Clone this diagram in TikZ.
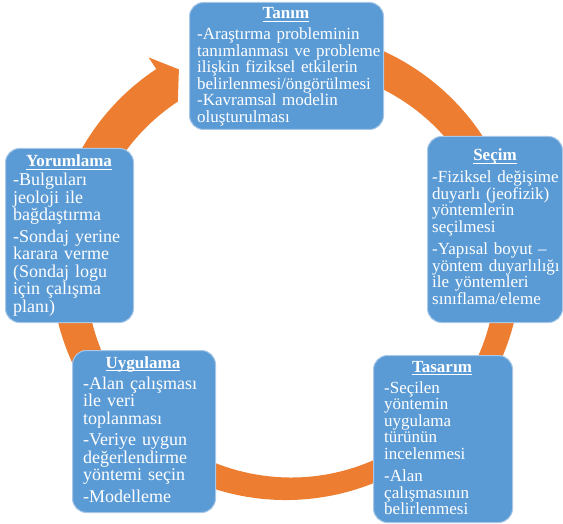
\documentclass[tikz,border=0pt]{standalone}
\usepackage{fontspec}
\setmainfont{Liberation Serif}
\usetikzlibrary{calc}
\definecolor{boxblue}{HTML}{5B9BD5}
\definecolor{ringorange}{HTML}{ED7D31}
\definecolor{boxedge}{HTML}{A9C8E8}
\newsavebox{\titlebx}
\newcommand{\boxtitle}[1]{\sbox{\titlebx}{\bfseries #1}\rlap{\rule[-2.5pt]{\wd\titlebx}{0.9pt}}\usebox{\titlebx}}
\tikzset{
  stagebox/.style={rounded corners=14pt, fill=boxblue, draw=boxedge, line width=1pt,
    anchor=north west, inner sep=0pt},
  stagetitle/.style={text=white, font=\fontsize{17}{15}\selectfont, anchor=base, inner sep=0pt},
  stagebody/.style 2 args={text=white, font=\fontsize{#1}{#2}\selectfont, align=left,
    text width=200pt, anchor=base west, inner sep=0pt},
}
\begin{document}
\begin{tikzpicture}[x=1pt,y=-1pt]
\useasboundingbox (0,0) rectangle (563,524);
\coordinate (C) at (286,265);
% ring with arrowhead
\fill[ringorange] ($(C)+(-100:235)$) arc[start angle=-100,end angle=236.5,radius=235]
  -- ($(C)+(236.5:249)$) -- ($(C)+(241.3:223)$) -- ($(C)+(236.5:196)$)
  arc[start angle=236.5,end angle=-100,radius=205] -- cycle;
% Tanim
\node[stagebox, minimum width=194pt, minimum height=127pt] (tanim) at (189,2) {};
\node[stagetitle] (tanim-t) at (286,19) {\boxtitle{Tanım}};
\node[stagebody={17}{16.5}] (tanim-b) at (197,40)
 {-Araştırma probleminin\\
 tanımlanması ve probleme\\
 ilişkin fiziksel etkilerin\\
 belirlenmesi/öngörülmesi\\
 -Kavramsal modelin\\
 oluşturulması};
% Secim
\node[stagebox, minimum width=135pt, minimum height=186pt] (secim) at (427,136) {};
\node[stagetitle] (secim-t) at (495,161) {\boxtitle{Seçim}};
\node[stagebody={17}{16.5}] (secim-b) at (432,183)
 {-Fiziksel değişime\\
 duyarlı (jeofizik)\\
 yöntemlerin\\
 seçilmesi\\[6pt]
 -Yapısal boyut –\\
 yöntem duyarlılığı\\
 ile yöntemleri\\
 sınıflama/eleme};
% Tasarim
\node[stagebox, minimum width=139pt, minimum height=167pt] (tasarim) at (373,355) {};
\node[stagetitle] (tasarim-t) at (442,372) {\boxtitle{Tasarım}};
\node[stagebody={17}{16.5}] (tasarim-b) at (384,393)
 {-Seçilen\\
 yöntemin\\
 uygulama\\
 türünün\\
 incelenmesi\\[6pt]
 -Alan\\
 çalışmasının\\
 belirlenmesi};
% Uygulama
\node[stagebox, minimum width=143pt, minimum height=162pt] (uygulama) at (72,350) {};
\node[stagetitle] (uygulama-t) at (143,368) {\boxtitle{Uygulama}};
\node[stagebody={18}{17.5}] (uygulama-b) at (83,389)
 {-Alan çalışması\\
 ile veri\\
 toplanması\\[4pt]
 -Veriye uygun\\
 değerlendirme\\
 yöntemi seçin\\[4pt]
 -Modelleme};
% Yorumlama
\node[stagebox, minimum width=128pt, minimum height=174pt] (yorumlama) at (5,148) {};
\node[stagetitle] (yorumlama-t) at (69,167) {\boxtitle{Yorumlama}};
\node[stagebody={18}{17.5}] (yorumlama-b) at (13,186)
 {-Bulguları\\
 jeoloji ile\\
 bağdaştırma\\[4pt]
 -Sondaj yerine\\
 karara verme\\
 (Sondaj logu\\
 için çalışma\\
 planı)};
\end{tikzpicture}
\end{document}
